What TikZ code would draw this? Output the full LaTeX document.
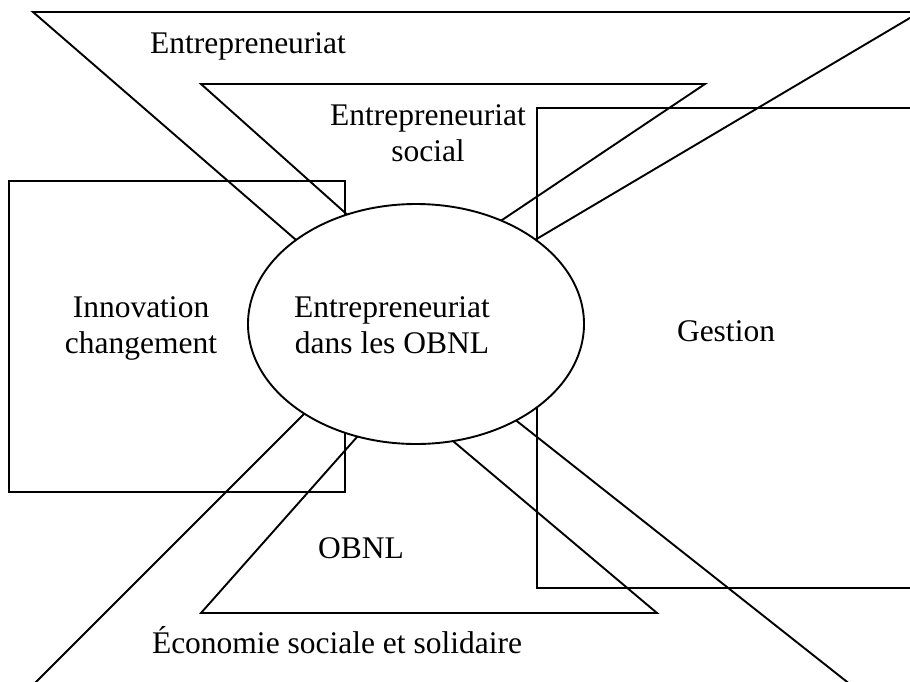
\documentclass[tikz,border=0pt]{standalone}
\usepackage{fontspec}
\setmainfont{Liberation Serif}
\usetikzlibrary{shapes.geometric}

\begin{document}
\begin{tikzpicture}[x=1pt, y=-1pt, line width=1.9pt,
    every node/.style={font=\fontsize{31.5}{36}\selectfont, inner sep=0pt},
    lbl/.style={align=center, anchor=base}]

\useasboundingbox (0,0) rectangle (910,681);
\clip (0,0) rectangle (910,681);

% Tips of the wedges, all hidden behind the ellipse
\coordinate (tipA) at (393,324);
\coordinate (tipB) at (417,277);
\coordinate (tipC) at (396,393);
\coordinate (tipD) at (394,324);

% Side boxes
\draw (9,181) rectangle (345,492);
\draw (537,108) rectangle (940,588);

% Wedges coming in from top and bottom
\draw (920,12) -- (33,12) -- (tipA) -- cycle;
\draw (705,84) -- (201,84) -- (tipB) -- cycle;
\draw (201,613) -- (657,613) -- (tipC) -- cycle;
\draw (18,700) -- (870,700) -- (tipD) -- cycle;

% Central ellipse on top of everything
\node[ellipse, draw, fill=white, minimum width=336pt, minimum height=240pt] (core) at (416,324) {};

% Labels (base = last line)
\node[lbl] (entr) at (248,53) {Entrepreneuriat};
\node[lbl] (entrsoc) at (428,161) {Entrepreneuriat\\social};
\node[lbl] (innov) at (141,353) {Innovation\\changement};
\node[lbl] (coretxt) at (392,353) {Entrepreneuriat\\dans les OBNL};
\node[lbl] (gest) at (726,341) {Gestion};
\node[lbl] (obnl) at (361,558) {OBNL};
\node[lbl] (ess) at (337,653) {Économie sociale et solidaire};

\end{tikzpicture}
\end{document}
